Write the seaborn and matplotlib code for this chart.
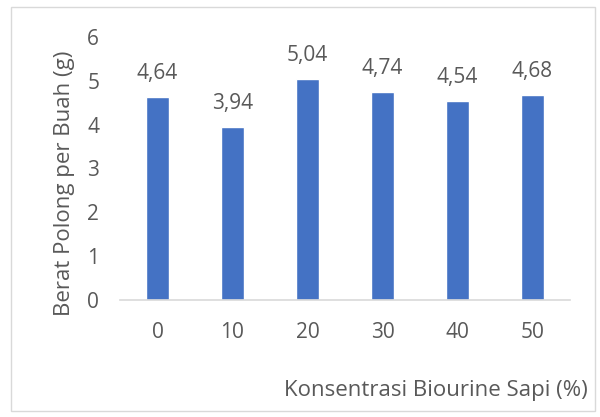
import numpy as np
import pandas as pd
import matplotlib
matplotlib.use('Agg')
import matplotlib.pyplot as plt
import seaborn as sns

konsentrasi = ['0', '10', '20', '30', '40', '50']
berat = [4.64, 3.94, 5.04, 4.74, 4.54, 4.68]
yticks = [0, 1, 2, 3, 4, 5, 6]

df = pd.DataFrame({'konsentrasi': konsentrasi, 'berat': berat})

sns.set_style('white')
plt.rcParams['font.family'] = ['Open Sans', 'DejaVu Sans']
grey = '#595959'

fig = plt.figure(figsize=(6, 4.17), dpi=100)
ax = fig.add_axes([0.2, 0.281, 0.75, 0.63])

sns.barplot(data=df, x='konsentrasi', y='berat', color='#4472C4',
            width=0.31, saturation=1, ax=ax)

# value labels with comma decimal
for i, v in enumerate(berat):
    ax.text(i, v + 0.3, f'{v:.2f}'.replace('.', ','), ha='center', va='bottom',
            fontsize=15, color=grey)

ax.set_ylim(0, 6)
ax.set_yticks(yticks)
ax.set_xlim(-0.5, 5.5)
ax.tick_params(axis='both', length=0, labelsize=15, colors=grey)
ax.tick_params(axis='y', pad=15)
ax.tick_params(axis='x', pad=16)
for s in ['top', 'right', 'left']:
    ax.spines[s].set_visible(False)
ax.spines['bottom'].set_color('#d9d9d9')
ax.spines['bottom'].set_linewidth(1.2)

ax.set_xlabel('')
ax.set_ylabel('')

fig.text(0.108, 0.56, 'Berat Polong per Buah (g)', rotation=90, ha='center',
         va='center', fontsize=16, color=grey)
fig.text(0.98, 0.063, 'Konsentrasi Biourine Sapi (%)', ha='right', va='center',
         fontsize=16, color=grey)

# chart border
border = plt.Rectangle((0.019, 0.014), 0.972, 0.969, transform=fig.transFigure,
                       fill=False, edgecolor='#d9d9d9', linewidth=1)
fig.patches.append(border)

fig.savefig('out.png', dpi=100)
